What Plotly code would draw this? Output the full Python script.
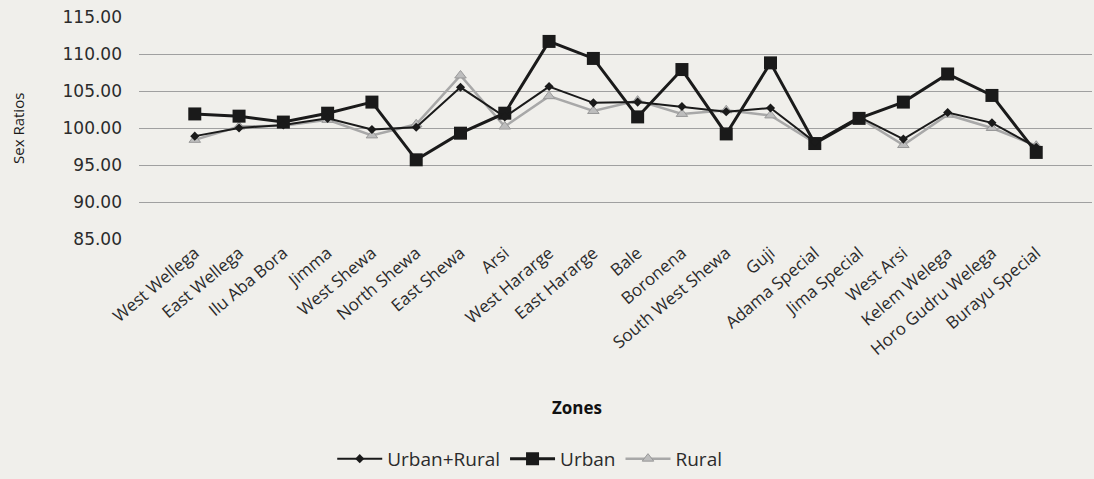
import plotly.graph_objects as go

zones = ["West Wellega", "East Wellega", "Ilu Aba Bora", "Jimma", "West Shewa",
         "North Shewa", "East Shewa", "Arsi", "West Hararge", "East Hararge",
         "Bale", "Boronena", "South West Shewa", "Guji", "Adama Special",
         "Jima Special", "West Arsi", "Kelem Welega", "Horo Gudru Welega",
         "Burayu Special"]

urban_rural = [98.9, 100.0, 100.4, 101.3, 99.8, 100.1, 105.5, 101.5, 105.6, 103.4,
               103.5, 102.9, 102.2, 102.7, 98.1, 101.5, 98.5, 102.1, 100.7, 97.4]
urban = [101.9, 101.6, 100.8, 102.0, 103.5, 95.7, 99.3, 102.0, 111.7, 109.4,
         101.5, 107.9, 99.2, 108.8, 97.9, 101.3, 103.5, 107.3, 104.4, 96.7]
rural = [98.4, 100.2, 100.3, 101.1, 99.0, 100.5, 107.1, 100.2, 104.3, 102.3,
         103.7, 101.9, 102.4, 101.7, 98.0, 101.4, 97.7, 101.8, 100.0, 97.6]

y_ticks = [85, 90, 95, 100, 105, 110, 115]

FONT = "Open Sans"
TXT = "#2b2b2b"

fig = go.Figure()
fig.add_trace(go.Scatter(
    x=zones, y=rural, name="Rural", mode="lines+markers", legendrank=3,
    line=dict(color="#a8a8a8", width=2.5),
    marker=dict(symbol="triangle-up", size=10, color="#bdbdbd",
                line=dict(color="#999999", width=1))))
fig.add_trace(go.Scatter(
    x=zones, y=urban, name="Urban", mode="lines+markers", legendrank=2,
    line=dict(color="#1a1a1a", width=3),
    marker=dict(symbol="square", size=13, color="#1a1a1a")))
fig.add_trace(go.Scatter(
    x=zones, y=urban_rural, name="Urban+Rural", mode="lines+markers", legendrank=1,
    line=dict(color="#1a1a1a", width=2),
    marker=dict(symbol="diamond", size=7, color="#1a1a1a")))

fig.update_layout(
    width=1094, height=479,
    margin=dict(l=139, r=2, t=17, b=233),
    paper_bgcolor="#f0efeb", plot_bgcolor="#f0efeb",
    font=dict(family=FONT, size=15, color=TXT),
    showlegend=True,
    legend=dict(orientation="h", x=0.41, xanchor="center", y=-0.99, yanchor="middle",
                font=dict(size=19, color=TXT), bgcolor="rgba(0,0,0,0)",
                itemwidth=45),
    xaxis=dict(type="category", tickangle=-40, showgrid=False, showline=False,
               ticks="", tickfont=dict(size=17, color=TXT)),
    yaxis=dict(range=[85, 115], tickvals=y_ticks, tickformat=".2f",
               showgrid=True, gridcolor="#a0a0a0", gridwidth=1,
               zeroline=False, showline=False, ticks="", ticklabelstandoff=16,
               tickfont=dict(size=17, color=TXT, family="DejaVu Sans")),
    annotations=[
        dict(text="<b>Zones</b>", xref="paper", yref="paper", x=0.46, y=-0.76,
             showarrow=False, font=dict(size=17, color="#111111", family=FONT),
             xanchor="center", yanchor="middle"),
        dict(text="Sex Ratios", xref="paper", yref="paper", x=-0.127, y=0.5,
             textangle=-90, showarrow=False, font=dict(size=15, color="#1a1a1a", family=FONT),
             xanchor="center", yanchor="middle"),
    ],
)

fig.write_html("out.html", config={"displayModeBar": False},
               post_script="document.body.style.margin='0';document.body.style.background='#f0efeb';")
